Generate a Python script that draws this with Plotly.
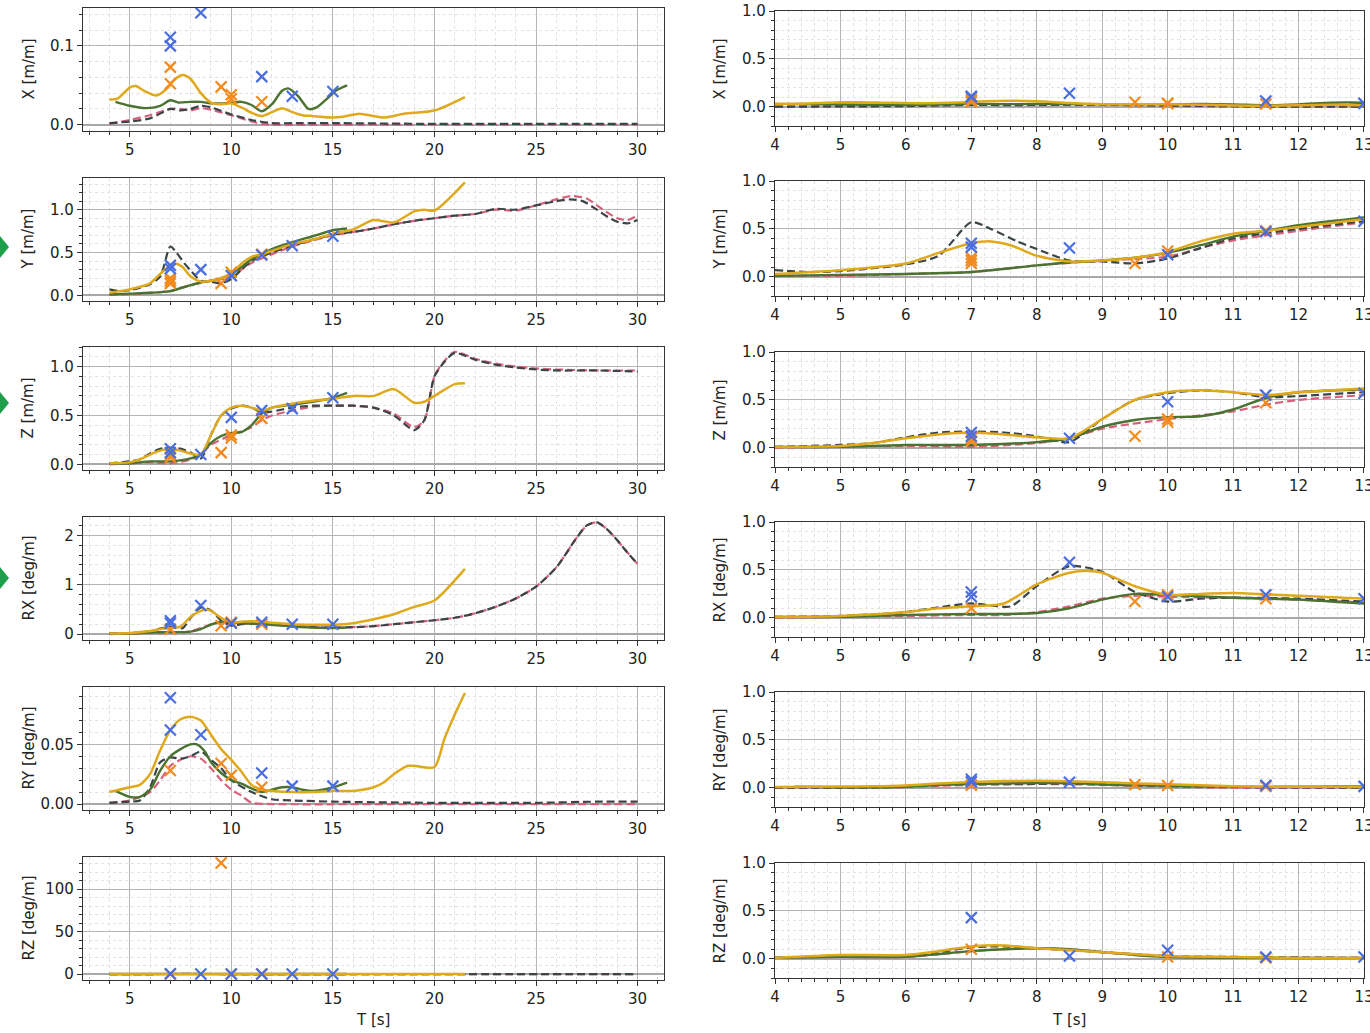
import plotly.graph_objects as go
from plotly.subplots import make_subplots

# ---------------- DATA ----------------
# Panel X [m/m]
X_gold_T = [4.0, 4.4, 5.0, 5.3, 5.7, 6.3, 6.8, 7.2, 7.6, 8.0, 8.5, 9.0, 9.5, 10.0, 10.5, 11.0, 11.5, 12.0, 12.5, 13.0, 13.5, 14.0, 15.0, 15.5, 16.3, 17.0, 17.5, 18.5, 20.0, 21.5]
X_gold_V = [0.032, 0.033, 0.047, 0.049, 0.043, 0.037, 0.045, 0.057, 0.063, 0.058, 0.040, 0.028, 0.026, 0.027, 0.022, 0.015, 0.011, 0.016, 0.021, 0.016, 0.012, 0.011, 0.009, 0.010, 0.014, 0.011, 0.009, 0.014, 0.018, 0.035]
X_green_T = [4.3, 5.0, 5.8, 6.5, 7.0, 7.4, 8.0, 8.5, 9.0, 9.5, 10.0, 10.5, 11.0, 11.5, 12.0, 12.5, 12.8, 13.3, 13.8, 14.2, 14.8, 15.2, 15.7]
X_green_V = [0.029, 0.024, 0.021, 0.024, 0.031, 0.028, 0.029, 0.029, 0.027, 0.027, 0.028, 0.029, 0.025, 0.017, 0.026, 0.043, 0.046, 0.036, 0.020, 0.022, 0.035, 0.044, 0.050]
X_dgray_T = [4, 5, 6, 7, 7.5, 8, 8.5, 9, 10, 11, 12, 13, 15, 20, 25, 30]
X_dgray_V = [0.002, 0.004, 0.008, 0.020, 0.018, 0.020, 0.024, 0.022, 0.013, 0.006, 0.002, 0.002, 0.002, 0.001, 0.001, 0.001]
X_pink_T = [4, 5, 6, 7, 7.5, 8, 8.5, 9, 10, 11, 11.5, 12, 15, 20, 25, 30]
X_pink_V = [0.001, 0.006, 0.012, 0.020, 0.020, 0.018, 0.021, 0.019, 0.012, 0.004, 0.001, 0.0, 0.0, 0.0, 0.0, 0.0]
X_blue_T = [7, 7, 8.5, 11.5, 13, 15]
X_blue_V = [0.111, 0.100, 0.142, 0.061, 0.036, 0.042]
X_orange_T = [7, 7, 9.5, 10, 10, 11.5]
X_orange_V = [0.073, 0.052, 0.048, 0.038, 0.033, 0.029]

# Panel Y [m/m]
Y_gold_T = [4, 5, 6, 6.5, 7, 7.3, 7.6, 8, 8.5, 9, 9.5, 10, 10.5, 11, 11.5, 12, 12.5, 13, 14, 15, 16, 17, 18, 19, 19.5, 20, 21.5]
Y_gold_V = [0.03, 0.07, 0.14, 0.25, 0.35, 0.37, 0.33, 0.22, 0.16, 0.17, 0.20, 0.26, 0.37, 0.45, 0.48, 0.52, 0.56, 0.60, 0.65, 0.72, 0.77, 0.88, 0.85, 0.98, 1.00, 0.99, 1.32]
Y_green_T = [4, 5, 6, 7, 8, 8.5, 9, 9.5, 10, 10.5, 11, 11.5, 12, 13, 14, 15, 15.7]
Y_green_V = [0.01, 0.02, 0.03, 0.05, 0.12, 0.15, 0.17, 0.20, 0.25, 0.33, 0.42, 0.48, 0.54, 0.62, 0.69, 0.76, 0.78]
Y_dgray_T = [4, 4.5, 5, 6, 6.5, 7, 7.3, 7.7, 8, 8.5, 9, 9.5, 10, 10.5, 11, 12, 13, 14, 15, 16, 17, 18, 19, 20, 21, 22, 23, 24, 25, 26, 26.7, 27.3, 28, 28.5, 29, 29.5, 30]
Y_dgray_V = [0.07, 0.05, 0.06, 0.13, 0.22, 0.57, 0.50, 0.37, 0.29, 0.17, 0.16, 0.14, 0.19, 0.30, 0.40, 0.50, 0.58, 0.65, 0.71, 0.74, 0.78, 0.83, 0.87, 0.90, 0.93, 0.95, 1.01, 1.00, 1.05, 1.10, 1.12, 1.10, 1.00, 0.92, 0.86, 0.84, 0.88]
Y_pink_T = [4, 5, 6, 7, 8, 9, 10, 10.5, 11, 12, 13, 14, 15, 16, 17, 18, 19, 20, 21, 22, 23, 24, 25, 26, 26.8, 27.5, 28, 28.5, 29, 29.5, 30]
Y_pink_V = [0.01, 0.01, 0.03, 0.05, 0.12, 0.17, 0.21, 0.30, 0.38, 0.48, 0.57, 0.64, 0.70, 0.74, 0.78, 0.83, 0.87, 0.90, 0.93, 0.95, 1.00, 0.99, 1.05, 1.12, 1.16, 1.13, 1.05, 0.97, 0.90, 0.88, 0.93]
Y_blue_T = [7, 7, 8.5, 10, 11.5, 13, 15]
Y_blue_V = [0.35, 0.31, 0.30, 0.23, 0.47, 0.58, 0.69]
Y_orange_T = [7, 7, 7, 9.5, 10, 11.5]
Y_orange_V = [0.20, 0.17, 0.14, 0.14, 0.27, 0.48]

# Panel Z [m/m]
Z_gold_T = [4, 5, 5.5, 6, 6.5, 7, 7.5, 8, 8.5, 9, 9.5, 10, 10.5, 11, 11.5, 12, 13, 14, 15, 16, 17, 18, 19, 19.5, 20, 21, 21.5]
Z_gold_V = [0.01, 0.02, 0.05, 0.10, 0.14, 0.16, 0.14, 0.11, 0.10, 0.30, 0.50, 0.58, 0.60, 0.58, 0.55, 0.58, 0.62, 0.65, 0.67, 0.70, 0.70, 0.77, 0.63, 0.64, 0.70, 0.82, 0.83]
Z_green_T = [4, 5, 6, 7, 8, 8.5, 9, 9.5, 10, 10.5, 11, 11.5, 12, 13, 14, 15, 15.7]
Z_green_V = [0.01, 0.01, 0.03, 0.03, 0.06, 0.10, 0.22, 0.29, 0.32, 0.33, 0.40, 0.52, 0.58, 0.61, 0.64, 0.68, 0.73]
Z_dgray_T = [4, 5, 5.5, 6, 6.5, 7, 7.5, 8, 8.5, 9, 9.5, 10, 10.5, 11, 11.5, 12, 13, 14, 15, 16, 17, 18, 19, 19.5, 20, 20.5, 21, 22, 23, 24, 25, 26, 28, 30]
Z_dgray_V = [0.01, 0.03, 0.05, 0.11, 0.16, 0.17, 0.16, 0.12, 0.06, 0.30, 0.50, 0.57, 0.60, 0.58, 0.53, 0.54, 0.58, 0.60, 0.60, 0.60, 0.58, 0.50, 0.35, 0.45, 0.90, 1.05, 1.14, 1.07, 1.02, 0.99, 0.97, 0.96, 0.96, 0.95]
Z_pink_T = [4, 5, 6, 7, 8, 8.5, 9, 10, 11, 11.5, 12, 13, 14, 15, 16, 17, 18, 19, 19.5, 20, 20.5, 21, 22, 23, 24, 25, 26, 28, 30]
Z_pink_V = [0.00, 0.01, 0.02, 0.01, 0.05, 0.10, 0.20, 0.30, 0.38, 0.45, 0.50, 0.55, 0.59, 0.60, 0.60, 0.58, 0.52, 0.38, 0.45, 0.90, 1.06, 1.15, 1.08, 1.03, 1.00, 0.98, 0.97, 0.96, 0.96]
Z_blue_T = [7, 7, 8.5, 10, 11.5, 13, 15]
Z_blue_V = [0.16, 0.12, 0.10, 0.48, 0.55, 0.57, 0.68]
Z_orange_T = [7, 7, 9.5, 10, 10, 11.5]
Z_orange_V = [0.10, 0.07, 0.12, 0.30, 0.27, 0.47]

# Panel RX [deg/m]
RX_gold_T = [4, 5, 6, 6.5, 7, 7.5, 8, 8.5, 8.8, 9, 9.5, 10, 10.5, 11, 12, 13, 14, 15, 16, 17, 18, 19, 20, 21.5]
RX_gold_V = [0.01, 0.02, 0.06, 0.10, 0.12, 0.15, 0.35, 0.47, 0.49, 0.47, 0.33, 0.24, 0.25, 0.26, 0.23, 0.20, 0.19, 0.19, 0.22, 0.30, 0.40, 0.55, 0.68, 1.32]
RX_green_T = [4, 5, 6, 7, 7.5, 8, 8.5, 9, 9.5, 10, 11, 12, 13, 14, 15, 15.7]
RX_green_V = [0.01, 0.01, 0.03, 0.04, 0.04, 0.05, 0.10, 0.19, 0.25, 0.24, 0.21, 0.19, 0.15, 0.13, 0.12, 0.13]
RX_dgray_T = [4, 5, 6, 6.5, 7, 7.3, 7.6, 8, 8.5, 9, 9.5, 10, 10.5, 11, 12, 13, 14, 15, 16, 17, 18, 19, 20, 21, 22, 23, 24, 25, 26, 27, 27.5, 28, 28.5, 29, 29.5, 30]
RX_dgray_V = [0.01, 0.02, 0.06, 0.11, 0.15, 0.13, 0.12, 0.33, 0.54, 0.48, 0.27, 0.17, 0.20, 0.21, 0.20, 0.17, 0.14, 0.13, 0.14, 0.16, 0.20, 0.24, 0.28, 0.33, 0.42, 0.55, 0.72, 0.96, 1.35, 1.95, 2.20, 2.26, 2.12, 1.90, 1.65, 1.42]
RX_pink_T = [4, 5, 6, 7, 7.5, 8, 8.5, 9, 9.5, 10, 11, 12, 13, 14, 15, 16, 17, 18, 19, 20, 21, 22, 23, 24, 25, 26, 27, 27.5, 28, 28.5, 29, 29.5, 30]
RX_pink_V = [0.00, 0.01, 0.02, 0.03, 0.03, 0.06, 0.12, 0.20, 0.23, 0.22, 0.21, 0.19, 0.16, 0.14, 0.13, 0.14, 0.16, 0.20, 0.24, 0.28, 0.33, 0.42, 0.55, 0.72, 0.96, 1.35, 1.95, 2.20, 2.26, 2.12, 1.90, 1.65, 1.42]
RX_blue_T = [7, 7, 8.5, 10, 11.5, 13, 15]
RX_blue_V = [0.27, 0.22, 0.58, 0.22, 0.24, 0.20, 0.20]
RX_orange_T = [7, 9.5, 10, 11.5]
RX_orange_V = [0.10, 0.17, 0.24, 0.20]

# Panel RY [deg/m]
RY_gold_T = [4, 5, 5.5, 6, 6.5, 7, 7.5, 8, 8.5, 9, 9.5, 10, 10.5, 11, 11.5, 12, 13, 14, 15, 16, 17, 17.5, 18, 18.7, 19, 20, 20.5, 21, 21.5]
RY_gold_V = [0.010, 0.014, 0.016, 0.025, 0.045, 0.062, 0.071, 0.073, 0.070, 0.058, 0.046, 0.037, 0.027, 0.016, 0.012, 0.011, 0.010, 0.010, 0.011, 0.011, 0.014, 0.018, 0.025, 0.032, 0.032, 0.031, 0.055, 0.075, 0.093]
RY_green_T = [4.3, 5, 5.5, 6, 6.5, 7, 7.5, 8, 8.3, 8.7, 9, 9.5, 10, 10.5, 11, 11.5, 12, 12.5, 13, 13.5, 14, 14.5, 15, 15.7]
RY_green_V = [0.011, 0.006, 0.006, 0.012, 0.028, 0.040, 0.046, 0.050, 0.050, 0.044, 0.035, 0.026, 0.020, 0.017, 0.013, 0.010, 0.012, 0.014, 0.014, 0.012, 0.011, 0.012, 0.014, 0.018]
RY_dgray_T = [4, 5, 5.5, 6, 6.5, 7, 7.5, 8, 8.5, 9, 9.5, 10, 11, 12, 13, 15, 20, 25, 28, 30]
RY_dgray_V = [0.001, 0.002, 0.003, 0.014, 0.035, 0.039, 0.038, 0.040, 0.044, 0.037, 0.030, 0.020, 0.010, 0.004, 0.003, 0.002, 0.001, 0.001, 0.002, 0.002]
RY_pink_T = [4, 5, 6, 6.5, 7, 7.5, 8, 8.5, 9, 9.5, 10, 10.5, 11, 12, 20, 30]
RY_pink_V = [0.001, 0.003, 0.010, 0.020, 0.032, 0.037, 0.040, 0.038, 0.030, 0.020, 0.012, 0.007, 0.001, 0.0, 0.0, 0.0]
RY_blue_T = [7, 7, 8.5, 11.5, 13, 15]
RY_blue_V = [0.089, 0.062, 0.058, 0.026, 0.015, 0.015]
RY_orange_T = [7, 9.5, 10, 11.5]
RY_orange_V = [0.028, 0.034, 0.024, 0.014]

# Panel RZ [deg/m]
RZ_gold_T = [4, 5, 6, 6.5, 7, 7.5, 8, 9, 10, 11, 12, 13, 15, 21.5]
RZ_gold_V = [0.01, 0.04, 0.04, 0.08, 0.13, 0.14, 0.11, 0.07, 0.03, 0.02, 0.01, 0.01, 0.01, 0.01]
RZ_green_T = [4, 5, 6, 6.5, 7, 7.5, 8, 8.5, 9, 9.5, 10, 11, 13, 15.7]
RZ_green_V = [0.01, 0.02, 0.02, 0.05, 0.08, 0.10, 0.11, 0.10, 0.07, 0.04, 0.02, 0.01, 0.01, 0.01]
RZ_dgray_T = [4, 5, 6, 6.5, 7, 7.5, 8, 9, 10, 11, 13, 20, 30]
RZ_dgray_V = [0.01, 0.03, 0.03, 0.07, 0.12, 0.13, 0.11, 0.07, 0.03, 0.02, 0.01, 0.0, 0.0]
RZ_pink_T = [4, 5, 6, 7, 7.5, 8, 8.5, 9, 10, 11, 13, 20, 30]
RZ_pink_V = [0.01, 0.02, 0.02, 0.08, 0.10, 0.11, 0.10, 0.07, 0.02, 0.01, 0.01, 0.0, 0.0]
RZ_blue_T = [7, 8.5, 10, 11.5, 13, 15]
RZ_blue_V = [0.43, 0.03, 0.09, 0.02, 0.02, 0.02]
RZ_orange_T = [7, 9.5, 10, 11.5]
RZ_orange_V = [0.10, 131.0, 0.02, 0.01]

Y_LABELS = ["X [m/m]", "Y [m/m]", "Z [m/m]", "RX [deg/m]", "RY [deg/m]", "RZ [deg/m]"]
X_TITLE = "T [s]"

# ---------------- STYLE ----------------
C_GOLD = "#e0a91c"
C_GREEN = "#4a7230"
C_DGRAY = "#3b4547"
C_PINK = "#d9607a"
C_BLUE = "#4a6ee0"
C_ORANGE = "#f28a1e"

panels = [
    dict(gold=(X_gold_T, X_gold_V), green=(X_green_T, X_green_V), dgray=(X_dgray_T, X_dgray_V),
         pink=(X_pink_T, X_pink_V), blue=(X_blue_T, X_blue_V), orange=(X_orange_T, X_orange_V),
         lrange=[-0.008, 0.148], ldtick=0.1, lminor=0.02, lfmt=".1f"),
    dict(gold=(Y_gold_T, Y_gold_V), green=(Y_green_T, Y_green_V), dgray=(Y_dgray_T, Y_dgray_V),
         pink=(Y_pink_T, Y_pink_V), blue=(Y_blue_T, Y_blue_V), orange=(Y_orange_T, Y_orange_V),
         lrange=[-0.066, 1.37], ldtick=0.5, lminor=0.1, lfmt=".1f"),
    dict(gold=(Z_gold_T, Z_gold_V), green=(Z_green_T, Z_green_V), dgray=(Z_dgray_T, Z_dgray_V),
         pink=(Z_pink_T, Z_pink_V), blue=(Z_blue_T, Z_blue_V), orange=(Z_orange_T, Z_orange_V),
         lrange=[-0.058, 1.20], ldtick=0.5, lminor=0.1, lfmt=".1f"),
    dict(gold=(RX_gold_T, RX_gold_V), green=(RX_green_T, RX_green_V), dgray=(RX_dgray_T, RX_dgray_V),
         pink=(RX_pink_T, RX_pink_V), blue=(RX_blue_T, RX_blue_V), orange=(RX_orange_T, RX_orange_V),
         lrange=[-0.12, 2.37], ldtick=1, lminor=0.2, lfmt="d"),
    dict(gold=(RY_gold_T, RY_gold_V), green=(RY_green_T, RY_green_V), dgray=(RY_dgray_T, RY_dgray_V),
         pink=(RY_pink_T, RY_pink_V), blue=(RY_blue_T, RY_blue_V), orange=(RY_orange_T, RY_orange_V),
         lrange=[-0.005, 0.098], ldtick=0.05, lminor=0.01, lfmt=".2f"),
    dict(gold=(RZ_gold_T, RZ_gold_V), green=(RZ_green_T, RZ_green_V), dgray=(RZ_dgray_T, RZ_dgray_V),
         pink=(RZ_pink_T, RZ_pink_V), blue=(RZ_blue_T, RZ_blue_V), orange=(RZ_orange_T, RZ_orange_V),
         lrange=[-7, 138], ldtick=50, lminor=10, lfmt="d"),
]

W, H = 1370, 1033
fig = make_subplots(rows=6, cols=2)

FONT = "DejaVu Sans"
LEFT_X = (83, 664)
RIGHT_X = (775, 1364)
LEFT_TOPS = [8, 178, 347, 517, 687, 857]
LEFT_H = 123
RIGHT_TOPS = [11, 181, 352, 522, 692, 863]
RIGHT_H = 115


def px_x(p):
    return p / W


def px_y(p):
    return 1 - p / H


for i, p in enumerate(panels):
    row = i + 1
    for col in (1, 2):
        for key, color, dash, width in [("pink", C_PINK, "8px,4px", 2.2),
                                        ("dgray", C_DGRAY, "8px,4px", 2.2),
                                        ("green", C_GREEN, None, 2.4),
                                        ("gold", C_GOLD, None, 2.5)]:
            t, v = p[key]
            fig.add_trace(go.Scatter(x=t, y=v, mode="lines", hoverinfo="skip",
                                     line=dict(color=color, width=width, dash=dash,
                                               shape="spline", smoothing=0.7)),
                          row=row, col=col)
        for key, color in [("orange", C_ORANGE), ("blue", C_BLUE)]:
            t, v = p[key]
            fig.add_trace(go.Scatter(x=t, y=v, mode="markers", hoverinfo="skip",
                                     marker=dict(symbol="x-thin", size=11, color=color,
                                                 line=dict(color=color, width=2.2))),
                          row=row, col=col)

    common = dict(showline=True, mirror=True, linecolor="#333333", linewidth=1.2,
                  showgrid=True, gridcolor="#b5b5b5", gridwidth=1, automargin=False,
                  ticks="outside", ticklen=5, tickcolor="#333333",
                  tickfont=dict(family=FONT, size=15, color="#222222"))
    lt = LEFT_TOPS[i]
    fig.update_xaxes(row=row, col=1, domain=[px_x(LEFT_X[0]), px_x(LEFT_X[1])],
                     range=[2.7, 31.3], tickmode="array", tickvals=[5, 10, 15, 20, 25, 30],
                     zeroline=False,
                     minor=dict(dtick=1, tick0=0, ticks="outside", ticklen=3, tickcolor="#333333",
                                showgrid=True, gridcolor="#e2e2e2", griddash="dot", gridwidth=1),
                     **common)
    fig.update_yaxes(row=row, col=1, domain=[px_y(lt + LEFT_H), px_y(lt)],
                     range=p["lrange"], dtick=p["ldtick"], tick0=0, tickformat=p["lfmt"],
                     zeroline=True, zerolinecolor="#a8a8a8", zerolinewidth=1.5,
                     minor=dict(dtick=p["lminor"], tick0=0, ticks="outside", ticklen=3, tickcolor="#333333",
                                showgrid=True, gridcolor="#e2e2e2", griddash="dot", gridwidth=1),
                     **common)
    rt = RIGHT_TOPS[i]
    fig.update_xaxes(row=row, col=2, domain=[px_x(RIGHT_X[0]), px_x(RIGHT_X[1])],
                     range=[3.9999, 13.0001], tickmode="array", tickvals=list(range(4, 14)),
                     zeroline=False, ticklabeloverflow="allow",
                     minor=dict(dtick=0.2, tick0=0, ticks="outside", ticklen=3, tickcolor="#333333",
                                showgrid=True, gridcolor="#e2e2e2", griddash="dot", gridwidth=1),
                     **common)
    fig.update_yaxes(row=row, col=2, domain=[px_y(rt + RIGHT_H), px_y(rt)],
                     range=[-0.2, 1.0001], tickmode="array", tickvals=[0, 0.5, 1.0],
                     ticktext=["0.0", "0.5", "1.0"], ticklabeloverflow="allow",
                     zeroline=True, zerolinecolor="#a8a8a8", zerolinewidth=1.5,
                     minor=dict(dtick=0.1, tick0=0, ticks="outside", ticklen=3, tickcolor="#333333",
                                showgrid=True, gridcolor="#e2e2e2", griddash="dot", gridwidth=1),
                     **common)

annotations = []
for i, lab in enumerate(Y_LABELS):
    lc = LEFT_TOPS[i] + LEFT_H / 2
    rc = RIGHT_TOPS[i] + RIGHT_H / 2
    annotations.append(dict(text=lab, x=px_x(28), y=px_y(lc), xref="paper", yref="paper",
                            textangle=-90, showarrow=False, xanchor="center", yanchor="middle",
                            font=dict(family=FONT, size=15, color="#222222")))
    annotations.append(dict(text=lab, x=px_x(719), y=px_y(rc), xref="paper", yref="paper",
                            textangle=-90, showarrow=False, xanchor="center", yanchor="middle",
                            font=dict(family=FONT, size=15, color="#222222")))
annotations.append(dict(text=X_TITLE, x=px_x(373), y=px_y(1020), xref="paper", yref="paper",
                        showarrow=False, xanchor="center", yanchor="middle",
                        font=dict(family=FONT, size=15, color="#222222")))
annotations.append(dict(text=X_TITLE, x=px_x(1069), y=px_y(1020), xref="paper", yref="paper",
                        showarrow=False, xanchor="center", yanchor="middle",
                        font=dict(family=FONT, size=15, color="#222222")))

shapes = []
for yc in [247, 403, 578]:
    path = "M {:.5f},{:.5f} L {:.5f},{:.5f} L {:.5f},{:.5f} Z".format(
        0, px_y(yc - 11), px_x(9), px_y(yc), 0, px_y(yc + 11))
    shapes.append(dict(type="path", path=path, xref="paper", yref="paper",
                       fillcolor="#1f9e4b", line=dict(width=0)))

fig.update_layout(width=W, height=H, autosize=False, margin=dict(l=0, r=0, t=0, b=0, pad=0),
                  paper_bgcolor="white", plot_bgcolor="white", showlegend=False,
                  annotations=annotations, shapes=shapes,
                  font=dict(family=FONT, size=15, color="#222222"))

POST = ("document.body.style.margin='0';document.body.style.padding='0';"
        "document.body.style.overflow='hidden';")

fig.write_html("out.html", config={"displayModeBar": False, "responsive": False},
               post_script=POST)
